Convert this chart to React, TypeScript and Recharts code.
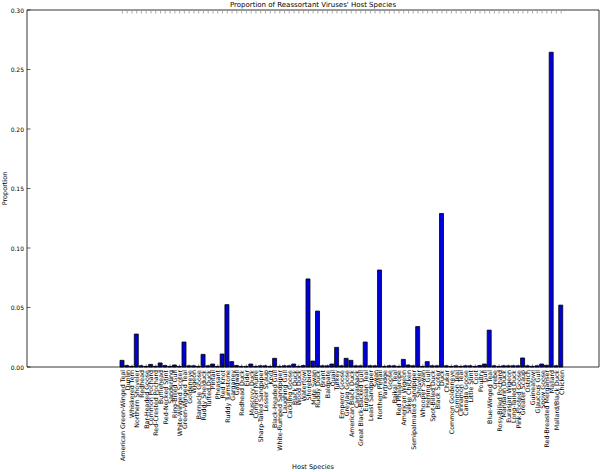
import { BarChart, Bar, XAxis, YAxis, Label } from "recharts";

// host species, in the order they appear along the x axis
const hosts = [
  "American Green-Winged Teal", "Dunlin", "Whiskered Tern", "Northern Shoveler", "Redhead",
  "Bar-Headed Goose", "Common Pochard", "Red-Crested Pochard", "Bufflehead", "Red-Necked Stint",
  "Sanderling", "Ring-Billed Gull", "White-Winged Scoter", "Green-Winged Teal", "Goldeneye",
  "Wigeon", "Barnacle Goose", "Ruddy Shelduck", "Tufted Duck", "Pintail",
  "Pheasant", "Red Knot", "Ruddy Turnstone", "Garganey", "Gadwall",
  "Redhead Duck", "Eider", "Muscovy Duck", "Common Murre", "Sharp-Tailed Sandpiper",
  "Lesser Scaup", "Knot", "Black-Headed Gull", "White-Rumped Sandpiper", "Laughing Gull",
  "Cackling Goose", "Black Duck", "Wood Duck", "Waterfowl", "Shorebird",
  "Mute Swan", "Ruddy Duck", "Brant", "Baldpate", "Quail",
  "Turkey", "Emperor Goose", "Greylag Goose", "American Black Duck", "Canvasback",
  "Great Black-Backed Gull", "Eurasian Teal", "Least Sandpiper", "Swan", "Northern Pintail",
  "Partridge", "Goose", "Baikal Teal", "Red Phalarope", "American Wigeon",
  "Silkie Chicken", "Semipalmated Sandpiper", "Shoveler", "Whooper Swan", "Herring Gull",
  "Spot-Billed Duck", "Black Scoter", "Duck", "Chukar", "Common Goldeneye",
  "Common Teal", "Cinnamon Teal", "Canada Goose", "Little Stint", "Coot",
  "Poultry", "Gull", "Blue-Winged Teal", "Grebe", "Rosy-Billed Pochard",
  "Mandarin Duck", "Eurasian Wigeon", "Long-Tailed Duck", "Pink-Footed Goose", "Greater Scaup",
  "Ostrich", "Guineafowl", "Glaucous Gull", "Snow Goose", "Red-Breasted Merganser",
  "Mallard", "Mallard/Black Duck", "Chicken",
];

// proportion of reassortant viruses per host
const proportions = [
  0.0056, 0.0012, 0.0005, 0.0277, 0.0010, 0.0005, 0.0022, 0.0005, 0.0034, 0.0012,
  0.0005, 0.0017, 0.0005, 0.0210, 0.0010, 0.0010, 0.0005, 0.0106, 0.0010, 0.0025,
  0.0005, 0.0109, 0.0524, 0.0045, 0.0012, 0.0005, 0.0005, 0.0025, 0.0005, 0.0010,
  0.0010, 0.0005, 0.0073, 0.0005, 0.0010, 0.0010, 0.0025, 0.0005, 0.0012, 0.0740,
  0.0050, 0.0470, 0.0010, 0.0010, 0.0025, 0.0165, 0.0010, 0.0073, 0.0056, 0.0010,
  0.0010, 0.0210, 0.0010, 0.0010, 0.0815, 0.0005, 0.0010, 0.0010, 0.0005, 0.0064,
  0.0017, 0.0010, 0.0340, 0.0005, 0.0045, 0.0010, 0.0010, 0.1290, 0.0010, 0.0005,
  0.0010, 0.0005, 0.0010, 0.0010, 0.0005, 0.0012, 0.0025, 0.0310, 0.0010, 0.0005,
  0.0010, 0.0010, 0.0010, 0.0010, 0.0076, 0.0010, 0.0005, 0.0010, 0.0025, 0.0014,
  0.2645, 0.0010, 0.0520,
];

const yTicks = [0, 0.05, 0.1, 0.15, 0.2, 0.25, 0.3];

const data = hosts.map((host, i) => ({ host, proportion: proportions[i] }));

const FONT = "'DejaVu Sans', sans-serif";
const PAD = { left: 93, right: 35.5 };
const SPINE = { stroke: "#000", strokeWidth: 0.8 };

// bottom ticks: inward tick mark + vertical label hanging under the axis
function HostTick({ x, y, payload }: any) {
  return (
    <g>
      <line x1={x} x2={x} y1={y - 3} y2={y - 5.5} stroke="#000" strokeWidth={0.5} />
      <text
        x={x}
        y={y}
        transform={`rotate(-90 ${x} ${y})`}
        textAnchor="end"
        dominantBaseline="central"
        fontSize={6.3}
        fontFamily={FONT}
        fill="#000"
      >
        {payload.value}
      </text>
    </g>
  );
}

function TopTick({ x, y }: any) {
  return <line x1={x} x2={x} y1={y + 1} y2={y + 3.5} stroke="#555" strokeWidth={0.5} />;
}

function LeftTick({ x, y, payload }: any) {
  return (
    <g>
      <line x1={x + 3} x2={x + 6.5} y1={y} y2={y} stroke="#000" strokeWidth={0.6} />
      <text x={x} y={y} textAnchor="end" dominantBaseline="central" fontSize={6} fontFamily={FONT} fill="#000">
        {Number(payload.value).toFixed(2)}
      </text>
    </g>
  );
}

function RightTick({ x, y }: any) {
  return <line x1={x - 1} x2={x - 4.5} y1={y} y2={y} stroke="#000" strokeWidth={0.6} />;
}

export default function App() {
  return (
    <div style={{ position: "absolute", left: 0, top: 0, width: 600, height: 472 }}>
      <BarChart width={600} height={472} data={data} margin={{ top: 9, right: 0, bottom: 0, left: 0 }}>
        <XAxis
          dataKey="host"
          interval={0}
          height={105}
          padding={PAD}
          tickSize={0}
          tickMargin={3}
          tickLine={false}
          axisLine={SPINE}
          tick={<HostTick />}
        >
          <Label
            content={({ viewBox }: any) => (
              <text
                x={viewBox.x + viewBox.width / 2}
                y={viewBox.y + viewBox.height - 3}
                textAnchor="middle"
                fontSize={6.5}
                fontFamily={FONT}
              >
                Host Species
              </text>
            )}
          />
        </XAxis>
        <XAxis
          xAxisId="top"
          orientation="top"
          dataKey="host"
          interval={0}
          height={1}
          padding={PAD}
          tickSize={0}
          tickMargin={0}
          tickLine={false}
          axisLine={SPINE}
          tick={<TopTick />}
        >
          <Label
            content={({ viewBox }: any) => (
              <text
                x={viewBox.x + viewBox.width / 2}
                y={viewBox.y - 2}
                textAnchor="middle"
                fontSize={7}
                fontFamily={FONT}
              >
                Proportion of Reassortant Viruses' Host Species
              </text>
            )}
          />
        </XAxis>
        <YAxis
          type="number"
          domain={[0, 0.3]}
          ticks={yTicks}
          width={27}
          tickSize={0}
          tickMargin={3}
          tickLine={false}
          axisLine={SPINE}
          tick={<LeftTick />}
        >
          <Label
            content={({ viewBox }: any) => {
              const cx = viewBox.x + 5;
              const cy = viewBox.y + viewBox.height / 2;
              return (
                <text
                  x={cx}
                  y={cy}
                  transform={`rotate(-90 ${cx} ${cy})`}
                  textAnchor="middle"
                  dominantBaseline="central"
                  fontSize={6.5}
                  fontFamily={FONT}
                >
                  Proportion
                </text>
              );
            }}
          />
        </YAxis>
        <YAxis
          yAxisId="right"
          orientation="right"
          type="number"
          domain={[0, 0.3]}
          ticks={yTicks}
          width={1}
          tickSize={0}
          tickMargin={0}
          tickLine={false}
          axisLine={SPINE}
          tick={<RightTick />}
        />
        <Bar
          dataKey="proportion"
          fill="#0000dd"
          stroke="#000"
          strokeWidth={0.8}
          barSize={4}
          isAnimationActive={false}
        />
      </BarChart>
    </div>
  );
}
